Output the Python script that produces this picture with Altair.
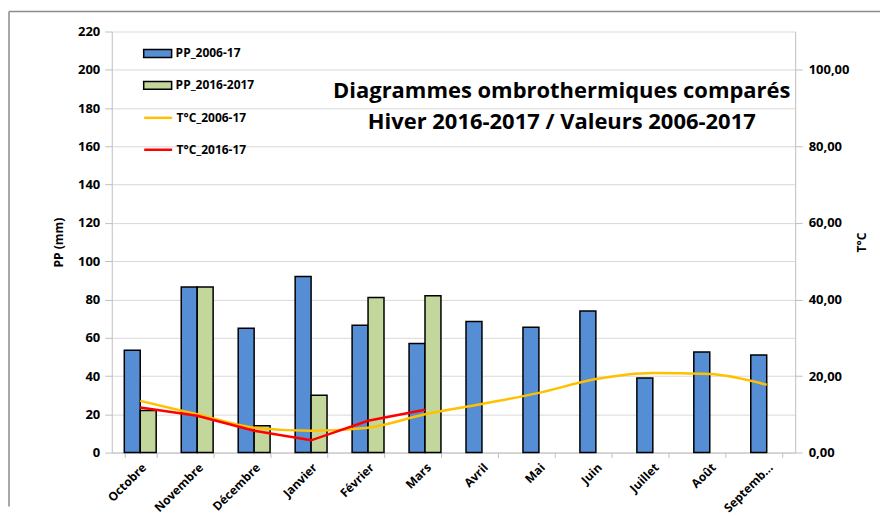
import altair as alt
import pandas as pd

months = ["Octobre", "Novembre", "Décembre", "Janvier", "Février", "Mars",
          "Avril", "Mai", "Juin", "Juillet", "Août", "Septemb..."]
pp_2006_17 = [53.5, 86.5, 65, 92, 66.5, 57, 68.5, 65.5, 74, 39, 52.5, 51]
pp_2016_2017 = [22, 86.5, 14, 30, 81, 82, None, None, None, None, None, None]
t_2006_17 = [13.5, 10.0, 6.5, 5.7, 6.5, 10.0, 12.7, 15.6, 19.2, 20.8, 20.5, 17.7]
t_2016_17 = [11.8, 9.6, 5.7, 3.2, 8.3, 11.2]

bar_series = ["PP_2006-17", "PP_2016-2017"]
line_series = ["T°C_2006-17", "T°C_2016-17"]
title_lines = ["Diagrammes ombrothermiques comparés", "Hiver 2016-2017 / Valeurs 2006-2017"]

FONT = "Open Sans"

rows = []
for m, a, b in zip(months, pp_2006_17, pp_2016_2017):
    rows.append({"mois": m, "serie": bar_series[0], "pp": a})
    if b is not None:
        rows.append({"mois": m, "serie": bar_series[1], "pp": b})
bars_df = pd.DataFrame(rows)

l1 = pd.DataFrame({"mois": months, "serie": line_series[0], "t": t_2006_17})
l2 = pd.DataFrame({"mois": months[:len(t_2016_17)], "serie": line_series[1], "t": t_2016_17})

xscale = alt.Scale(domain=months, paddingInner=0.44, paddingOuter=0.22)
xaxis = alt.Axis(title=None, labelAngle=-45, labelFont=FONT, labelFontSize=12,
                 labelFontWeight="bold", labelColor="#000", tickBand="extent",
                 domainColor="#BFBFBF", tickColor="#BFBFBF", tickSize=5,
                 labelPadding=4, grid=False)

bars = alt.Chart(bars_df).mark_bar(stroke="#000", strokeWidth=1.5).encode(
    x=alt.X("mois:N", scale=xscale, axis=xaxis, sort=months),
    xOffset=alt.XOffset("serie:N", scale=alt.Scale(domain=bar_series, paddingInner=0, paddingOuter=0)),
    y=alt.Y("pp:Q", scale=alt.Scale(domain=[0, 220], nice=False),
            axis=alt.Axis(title="PP (mm)", values=list(range(0, 221, 20)),
                          labelFont=FONT, labelFontSize=13, labelFontWeight="bold",
                          labelColor="#000", titleFont=FONT, titleFontSize=12,
                          titleFontWeight="bold", titleColor="#000", titlePadding=12,
                          domainColor="#BFBFBF", tickColor="#BFBFBF", tickSize=7,
                          labelPadding=5, gridColor="#D9D9D9")),
    color=alt.Color("serie:N", scale=alt.Scale(domain=bar_series, range=["#558ED5", "#C3D69B"]),
                    legend=alt.Legend(title=None, orient="none", legendX=31, legendY=7,
                                      symbolType="M-1,-0.28H1V0.28H-1Z", symbolSize=784,
                                      symbolStrokeColor="#000", symbolStrokeWidth=1.5,
                                      rowPadding=10, labelFont=FONT, labelFontSize=12,
                                      labelFontWeight="bold", labelOffset=3, padding=0)),
)

tscale = alt.Scale(domain=[0, 110], nice=False)
tstroke = alt.Scale(domain=line_series, range=["#FFC000", "#FF0000"])
taxis = alt.Axis(title="T°C", orient="right", values=list(range(0, 101, 20)),
                 labelExpr="replace(format(datum.value, '.2f'), '.', ',')",
                 labelFont=FONT, labelFontSize=13, labelFontWeight="bold",
                 labelColor="#000", titleFont=FONT, titleFontSize=12,
                 titleFontWeight="bold", titleColor="#000", titlePadding=20,
                 titleAngle=270, titleBaseline="bottom",
                 domainColor="#BFBFBF", tickColor="#BFBFBF", tickSize=7,
                 labelPadding=6, grid=False)
tlegend = alt.Legend(title=None, orient="none", legendX=31, legendY=71,
                     symbolType="stroke", symbolSize=784, symbolStrokeWidth=2.5,
                     rowPadding=10, labelFont=FONT, labelFontSize=12,
                     labelFontWeight="bold", labelOffset=3, padding=0)

line_a = alt.Chart(l1).mark_line(strokeWidth=2.5, interpolate="monotone").encode(
    x=alt.X("mois:N", scale=xscale, sort=months),
    y=alt.Y("t:Q", scale=tscale, axis=taxis),
    stroke=alt.Stroke("serie:N", scale=tstroke, legend=tlegend),
)
line_b = alt.Chart(l2).mark_line(strokeWidth=2.5).encode(
    x=alt.X("mois:N", scale=xscale, sort=months),
    y=alt.Y("t:Q", scale=tscale, axis=taxis),
    stroke=alt.Stroke("serie:N", scale=tstroke, legend=tlegend),
)
lines = alt.layer(line_a, line_b)

one = pd.DataFrame({"k": [0]})
frame_left = alt.Chart(one).mark_rule(color="#8C8C8C", strokeWidth=1.5, clip=False).encode(
    x=alt.value(-103), y=alt.value(-20), y2=alt.value(476))
frame_top = alt.Chart(one).mark_rule(color="#8C8C8C", strokeWidth=1.5, clip=False).encode(
    x=alt.value(-103), x2=alt.value(770), y=alt.value(-20))

t1 = alt.Chart(pd.DataFrame({"txt": [title_lines[0]]})).mark_text(
    font=FONT, fontSize=22, fontWeight="bold", color="#000", align="center", baseline="middle"
).encode(text="txt:N", x=alt.value(451), y=alt.value(60))
t2 = alt.Chart(pd.DataFrame({"txt": [title_lines[1]]})).mark_text(
    font=FONT, fontSize=22, fontWeight="bold", color="#000", align="center", baseline="middle"
).encode(text="txt:N", x=alt.value(451), y=alt.value(91))

chart = alt.layer(frame_left, frame_top, bars, lines, t1, t2).resolve_scale(
    y="independent", color="independent", stroke="independent"
).properties(
    width=685, height=422,
    padding={"left": 0, "top": 2, "right": 0, "bottom": 0},
).configure_view(stroke=None)

chart.save("out.html", embed_options={"renderer": "svg", "actions": False})
